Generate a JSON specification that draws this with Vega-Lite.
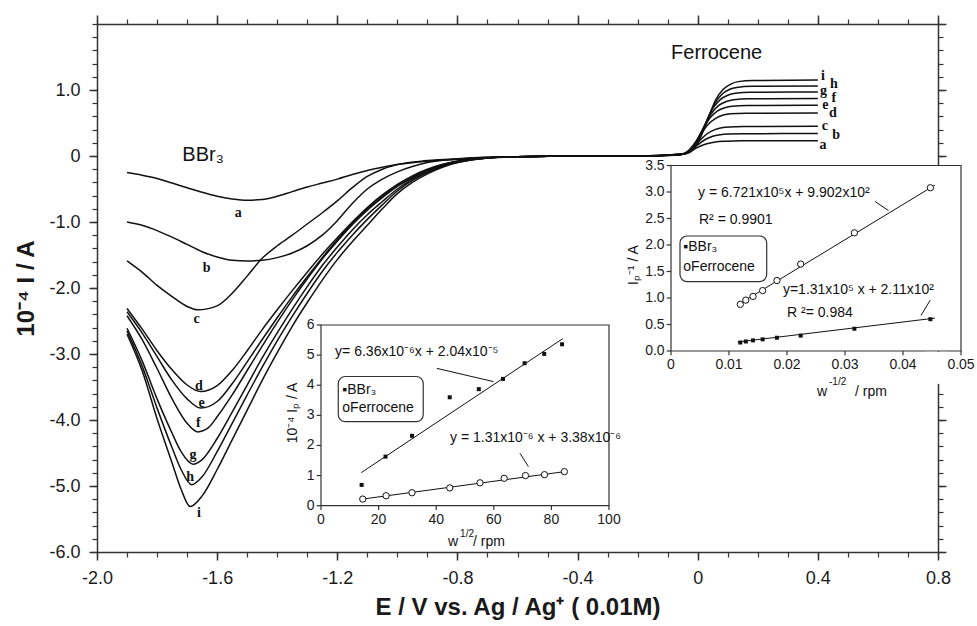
{
"$schema":"https://vega.github.io/schema/vega-lite/v6.json",
"width":841,"height":528,
"autosize":{"type":"none"},
"padding":{"left":97,"top":24,"right":39,"bottom":74},
"background":"white",
"config":{"view":{"stroke":null},"font":"Liberation Sans",
"axis":{"grid":false,"labelFont":"Liberation Sans","titleFont":"Liberation Sans","labelColor":"#1a1a1a","titleColor":"#1a1a1a","domainColor":"#333","tickColor":"#333","labelFlush":false,"labelOverlap":false}},
"datasets":{
"curves":[
{"c":"a","E":-1.9,"I":-0.25},{"c":"a","E":-1.85,"I":-0.29},{"c":"a","E":-1.8,"I":-0.34},{"c":"a","E":-1.75,"I":-0.41},{"c":"a","E":-1.7,"I":-0.48},{"c":"a","E":-1.65,"I":-0.55},{"c":"a","E":-1.6,"I":-0.61},{"c":"a","E":-1.55,"I":-0.65},{"c":"a","E":-1.5,"I":-0.67},{"c":"a","E":-1.45,"I":-0.66},{"c":"a","E":-1.4,"I":-0.61},{"c":"a","E":-1.35,"I":-0.54},{"c":"a","E":-1.3,"I":-0.47},{"c":"a","E":-1.25,"I":-0.41},{"c":"a","E":-1.2,"I":-0.35},{"c":"a","E":-1.15,"I":-0.28},{"c":"a","E":-1.1,"I":-0.22},{"c":"a","E":-1.05,"I":-0.17},{"c":"a","E":-1.0,"I":-0.13},{"c":"a","E":-0.9,"I":-0.08},{"c":"a","E":-0.8,"I":-0.05},{"c":"a","E":-0.7,"I":-0.03},{"c":"a","E":-0.6,"I":-0.01},{"c":"a","E":-0.4,"I":0},{"c":"a","E":-0.2,"I":0},{"c":"a","E":-0.08,"I":0.01},{"c":"a","E":-0.055,"I":0.02},{"c":"a","E":-0.03,"I":0.06},{"c":"a","E":-0.005,"I":0.12},{"c":"a","E":0.02,"I":0.17},{"c":"a","E":0.045,"I":0.2},{"c":"a","E":0.07,"I":0.22},{"c":"a","E":0.095,"I":0.225},{"c":"a","E":0.145,"I":0.23},{"c":"a","E":0.4,"I":0.23},
{"c":"b","E":-1.9,"I":-1.0},{"c":"b","E":-1.85,"I":-1.05},{"c":"b","E":-1.8,"I":-1.13},{"c":"b","E":-1.75,"I":-1.23},{"c":"b","E":-1.7,"I":-1.34},{"c":"b","E":-1.65,"I":-1.45},{"c":"b","E":-1.6,"I":-1.53},{"c":"b","E":-1.55,"I":-1.58},{"c":"b","E":-1.5,"I":-1.59},{"c":"b","E":-1.45,"I":-1.58},{"c":"b","E":-1.4,"I":-1.54},{"c":"b","E":-1.35,"I":-1.47},{"c":"b","E":-1.3,"I":-1.36},{"c":"b","E":-1.25,"I":-1.2},{"c":"b","E":-1.2,"I":-0.98},{"c":"b","E":-1.15,"I":-0.72},{"c":"b","E":-1.1,"I":-0.5},{"c":"b","E":-1.05,"I":-0.35},{"c":"b","E":-1.0,"I":-0.24},{"c":"b","E":-0.95,"I":-0.16},{"c":"b","E":-0.9,"I":-0.1},{"c":"b","E":-0.8,"I":-0.05},{"c":"b","E":-0.7,"I":-0.02},{"c":"b","E":-0.6,"I":-0.01},{"c":"b","E":-0.4,"I":0},{"c":"b","E":-0.2,"I":0},{"c":"b","E":-0.075,"I":0.01},{"c":"b","E":-0.05,"I":0.027},{"c":"b","E":-0.025,"I":0.085},{"c":"b","E":0,"I":0.17},{"c":"b","E":0.025,"I":0.25},{"c":"b","E":0.05,"I":0.3},{"c":"b","E":0.075,"I":0.323},{"c":"b","E":0.1,"I":0.333},{"c":"b","E":0.15,"I":0.338},{"c":"b","E":0.4,"I":0.34},
{"c":"c","E":-1.9,"I":-1.59},{"c":"c","E":-1.85,"I":-1.76},{"c":"c","E":-1.8,"I":-1.96},{"c":"c","E":-1.75,"I":-2.13},{"c":"c","E":-1.7,"I":-2.28},{"c":"c","E":-1.665,"I":-2.33},{"c":"c","E":-1.6,"I":-2.27},{"c":"c","E":-1.55,"I":-2.08},{"c":"c","E":-1.5,"I":-1.82},{"c":"c","E":-1.45,"I":-1.55},{"c":"c","E":-1.4,"I":-1.36},{"c":"c","E":-1.35,"I":-1.2},{"c":"c","E":-1.3,"I":-1.03},{"c":"c","E":-1.25,"I":-0.86},{"c":"c","E":-1.2,"I":-0.68},{"c":"c","E":-1.15,"I":-0.48},{"c":"c","E":-1.1,"I":-0.31},{"c":"c","E":-1.05,"I":-0.2},{"c":"c","E":-1.0,"I":-0.13},{"c":"c","E":-0.9,"I":-0.07},{"c":"c","E":-0.8,"I":-0.04},{"c":"c","E":-0.7,"I":-0.02},{"c":"c","E":-0.6,"I":-0.01},{"c":"c","E":-0.4,"I":0},{"c":"c","E":-0.2,"I":0},{"c":"c","E":-0.07,"I":0.014},{"c":"c","E":-0.045,"I":0.036},{"c":"c","E":-0.02,"I":0.11},{"c":"c","E":0.005,"I":0.225},{"c":"c","E":0.03,"I":0.333},{"c":"c","E":0.055,"I":0.396},{"c":"c","E":0.08,"I":0.428},{"c":"c","E":0.105,"I":0.441},{"c":"c","E":0.155,"I":0.448},{"c":"c","E":0.4,"I":0.45},
{"c":"d","E":-1.9,"I":-2.31},{"c":"d","E":-1.85,"I":-2.62},{"c":"d","E":-1.8,"I":-2.95},{"c":"d","E":-1.75,"I":-3.24},{"c":"d","E":-1.7,"I":-3.47},{"c":"d","E":-1.655,"I":-3.57},{"c":"d","E":-1.6,"I":-3.48},{"c":"d","E":-1.55,"I":-3.25},{"c":"d","E":-1.5,"I":-2.95},{"c":"d","E":-1.45,"I":-2.63},{"c":"d","E":-1.4,"I":-2.33},{"c":"d","E":-1.35,"I":-2.04},{"c":"d","E":-1.3,"I":-1.76},{"c":"d","E":-1.25,"I":-1.49},{"c":"d","E":-1.2,"I":-1.24},{"c":"d","E":-1.15,"I":-1.0},{"c":"d","E":-1.1,"I":-0.78},{"c":"d","E":-1.05,"I":-0.59},{"c":"d","E":-1.0,"I":-0.43},{"c":"d","E":-0.95,"I":-0.3},{"c":"d","E":-0.9,"I":-0.2},{"c":"d","E":-0.85,"I":-0.13},{"c":"d","E":-0.8,"I":-0.08},{"c":"d","E":-0.7,"I":-0.03},{"c":"d","E":-0.6,"I":-0.01},{"c":"d","E":-0.4,"I":0},{"c":"d","E":-0.2,"I":0},{"c":"d","E":-0.065,"I":0.02},{"c":"d","E":-0.04,"I":0.052},{"c":"d","E":-0.015,"I":0.16},{"c":"d","E":0.01,"I":0.325},{"c":"d","E":0.035,"I":0.48},{"c":"d","E":0.06,"I":0.57},{"c":"d","E":0.085,"I":0.62},{"c":"d","E":0.11,"I":0.64},{"c":"d","E":0.16,"I":0.647},{"c":"d","E":0.4,"I":0.65},
{"c":"e","E":-1.9,"I":-2.36},{"c":"e","E":-1.85,"I":-2.68},{"c":"e","E":-1.8,"I":-3.04},{"c":"e","E":-1.75,"I":-3.4},{"c":"e","E":-1.7,"I":-3.68},{"c":"e","E":-1.655,"I":-3.82},{"c":"e","E":-1.6,"I":-3.72},{"c":"e","E":-1.55,"I":-3.45},{"c":"e","E":-1.5,"I":-3.12},{"c":"e","E":-1.45,"I":-2.78},{"c":"e","E":-1.4,"I":-2.45},{"c":"e","E":-1.35,"I":-2.13},{"c":"e","E":-1.3,"I":-1.83},{"c":"e","E":-1.25,"I":-1.54},{"c":"e","E":-1.2,"I":-1.27},{"c":"e","E":-1.15,"I":-1.02},{"c":"e","E":-1.1,"I":-0.8},{"c":"e","E":-1.05,"I":-0.61},{"c":"e","E":-1.0,"I":-0.45},{"c":"e","E":-0.95,"I":-0.32},{"c":"e","E":-0.9,"I":-0.21},{"c":"e","E":-0.85,"I":-0.13},{"c":"e","E":-0.8,"I":-0.08},{"c":"e","E":-0.7,"I":-0.03},{"c":"e","E":-0.6,"I":-0.01},{"c":"e","E":-0.4,"I":0},{"c":"e","E":-0.2,"I":0},{"c":"e","E":-0.06,"I":0.023},{"c":"e","E":-0.035,"I":0.062},{"c":"e","E":-0.01,"I":0.19},{"c":"e","E":0.015,"I":0.385},{"c":"e","E":0.04,"I":0.57},{"c":"e","E":0.065,"I":0.68},{"c":"e","E":0.09,"I":0.73},{"c":"e","E":0.115,"I":0.755},{"c":"e","E":0.165,"I":0.766},{"c":"e","E":0.4,"I":0.77},
{"c":"f","E":-1.9,"I":-2.42},{"c":"f","E":-1.85,"I":-2.78},{"c":"f","E":-1.8,"I":-3.22},{"c":"f","E":-1.75,"I":-3.68},{"c":"f","E":-1.7,"I":-4.05},{"c":"f","E":-1.665,"I":-4.18},{"c":"f","E":-1.63,"I":-4.12},{"c":"f","E":-1.6,"I":-3.95},{"c":"f","E":-1.55,"I":-3.62},{"c":"f","E":-1.5,"I":-3.25},{"c":"f","E":-1.45,"I":-2.88},{"c":"f","E":-1.4,"I":-2.52},{"c":"f","E":-1.35,"I":-2.18},{"c":"f","E":-1.3,"I":-1.86},{"c":"f","E":-1.25,"I":-1.56},{"c":"f","E":-1.2,"I":-1.29},{"c":"f","E":-1.15,"I":-1.04},{"c":"f","E":-1.1,"I":-0.82},{"c":"f","E":-1.05,"I":-0.63},{"c":"f","E":-1.0,"I":-0.46},{"c":"f","E":-0.95,"I":-0.33},{"c":"f","E":-0.9,"I":-0.22},{"c":"f","E":-0.85,"I":-0.14},{"c":"f","E":-0.8,"I":-0.08},{"c":"f","E":-0.7,"I":-0.03},{"c":"f","E":-0.6,"I":-0.01},{"c":"f","E":-0.4,"I":0},{"c":"f","E":-0.2,"I":0},{"c":"f","E":-0.055,"I":0.026},{"c":"f","E":-0.03,"I":0.07},{"c":"f","E":-0.005,"I":0.22},{"c":"f","E":0.02,"I":0.435},{"c":"f","E":0.045,"I":0.64},{"c":"f","E":0.07,"I":0.766},{"c":"f","E":0.095,"I":0.826},{"c":"f","E":0.12,"I":0.853},{"c":"f","E":0.17,"I":0.866},{"c":"f","E":0.4,"I":0.87},
{"c":"g","E":-1.9,"I":-2.61},{"c":"g","E":-1.85,"I":-3.1},{"c":"g","E":-1.8,"I":-3.68},{"c":"g","E":-1.75,"I":-4.2},{"c":"g","E":-1.72,"I":-4.48},{"c":"g","E":-1.68,"I":-4.67},{"c":"g","E":-1.65,"I":-4.6},{"c":"g","E":-1.6,"I":-4.28},{"c":"g","E":-1.55,"I":-3.88},{"c":"g","E":-1.5,"I":-3.47},{"c":"g","E":-1.45,"I":-3.06},{"c":"g","E":-1.4,"I":-2.68},{"c":"g","E":-1.35,"I":-2.32},{"c":"g","E":-1.3,"I":-1.98},{"c":"g","E":-1.25,"I":-1.66},{"c":"g","E":-1.2,"I":-1.38},{"c":"g","E":-1.15,"I":-1.12},{"c":"g","E":-1.1,"I":-0.89},{"c":"g","E":-1.05,"I":-0.69},{"c":"g","E":-1.0,"I":-0.5},{"c":"g","E":-0.95,"I":-0.35},{"c":"g","E":-0.9,"I":-0.24},{"c":"g","E":-0.85,"I":-0.15},{"c":"g","E":-0.8,"I":-0.09},{"c":"g","E":-0.7,"I":-0.03},{"c":"g","E":-0.6,"I":-0.01},{"c":"g","E":-0.4,"I":0},{"c":"g","E":-0.2,"I":0},{"c":"g","E":-0.05,"I":0.029},{"c":"g","E":-0.025,"I":0.078},{"c":"g","E":0,"I":0.24},{"c":"g","E":0.025,"I":0.485},{"c":"g","E":0.05,"I":0.72},{"c":"g","E":0.075,"I":0.854},{"c":"g","E":0.1,"I":0.92},{"c":"g","E":0.125,"I":0.95},{"c":"g","E":0.175,"I":0.965},{"c":"g","E":0.4,"I":0.97},
{"c":"h","E":-1.9,"I":-2.65},{"c":"h","E":-1.85,"I":-3.18},{"c":"h","E":-1.8,"I":-3.82},{"c":"h","E":-1.75,"I":-4.42},{"c":"h","E":-1.72,"I":-4.75},{"c":"h","E":-1.685,"I":-4.98},{"c":"h","E":-1.65,"I":-4.86},{"c":"h","E":-1.6,"I":-4.48},{"c":"h","E":-1.55,"I":-4.05},{"c":"h","E":-1.5,"I":-3.62},{"c":"h","E":-1.45,"I":-3.2},{"c":"h","E":-1.4,"I":-2.8},{"c":"h","E":-1.35,"I":-2.43},{"c":"h","E":-1.3,"I":-2.08},{"c":"h","E":-1.25,"I":-1.75},{"c":"h","E":-1.2,"I":-1.46},{"c":"h","E":-1.15,"I":-1.2},{"c":"h","E":-1.1,"I":-0.96},{"c":"h","E":-1.05,"I":-0.74},{"c":"h","E":-1.0,"I":-0.53},{"c":"h","E":-0.95,"I":-0.37},{"c":"h","E":-0.9,"I":-0.25},{"c":"h","E":-0.85,"I":-0.16},{"c":"h","E":-0.8,"I":-0.1},{"c":"h","E":-0.7,"I":-0.03},{"c":"h","E":-0.6,"I":-0.01},{"c":"h","E":-0.4,"I":0},{"c":"h","E":-0.2,"I":0},{"c":"h","E":-0.045,"I":0.032},{"c":"h","E":-0.02,"I":0.085},{"c":"h","E":0.005,"I":0.265},{"c":"h","E":0.03,"I":0.53},{"c":"h","E":0.055,"I":0.784},{"c":"h","E":0.08,"I":0.933},{"c":"h","E":0.105,"I":1.007},{"c":"h","E":0.13,"I":1.039},{"c":"h","E":0.18,"I":1.055},{"c":"h","E":0.4,"I":1.06},
{"c":"i","E":-1.9,"I":-2.7},{"c":"i","E":-1.85,"I":-3.25},{"c":"i","E":-1.8,"I":-3.98},{"c":"i","E":-1.75,"I":-4.65},{"c":"i","E":-1.72,"I":-5.05},{"c":"i","E":-1.69,"I":-5.31},{"c":"i","E":-1.65,"I":-5.15},{"c":"i","E":-1.6,"I":-4.75},{"c":"i","E":-1.55,"I":-4.3},{"c":"i","E":-1.5,"I":-3.85},{"c":"i","E":-1.45,"I":-3.4},{"c":"i","E":-1.4,"I":-2.98},{"c":"i","E":-1.35,"I":-2.58},{"c":"i","E":-1.3,"I":-2.22},{"c":"i","E":-1.25,"I":-1.88},{"c":"i","E":-1.2,"I":-1.57},{"c":"i","E":-1.15,"I":-1.3},{"c":"i","E":-1.1,"I":-1.05},{"c":"i","E":-1.05,"I":-0.8},{"c":"i","E":-1.0,"I":-0.57},{"c":"i","E":-0.95,"I":-0.4},{"c":"i","E":-0.9,"I":-0.27},{"c":"i","E":-0.85,"I":-0.17},{"c":"i","E":-0.8,"I":-0.1},{"c":"i","E":-0.7,"I":-0.03},{"c":"i","E":-0.6,"I":-0.01},{"c":"i","E":-0.4,"I":0},{"c":"i","E":-0.2,"I":0},{"c":"i","E":-0.04,"I":0.035},{"c":"i","E":-0.015,"I":0.092},{"c":"i","E":0.01,"I":0.29},{"c":"i","E":0.035,"I":0.575},{"c":"i","E":0.06,"I":0.85},{"c":"i","E":0.085,"I":1.01},{"c":"i","E":0.11,"I":1.09},{"c":"i","E":0.135,"I":1.127},{"c":"i","E":0.185,"I":1.144},{"c":"i","E":0.4,"I":1.15}
],
"curveLabels":[
{"t":"a","E":-1.53,"I":-0.86},{"t":"b","E":-1.635,"I":-1.7},{"t":"c","E":-1.668,"I":-2.47},{"t":"d","E":-1.661,"I":-3.48},{"t":"e","E":-1.652,"I":-3.74},{"t":"f","E":-1.663,"I":-4.05},{"t":"g","E":-1.68,"I":-4.53},{"t":"h","E":-1.69,"I":-4.86},{"t":"i","E":-1.661,"I":-5.41},
{"t":"a","E":0.417,"I":0.167},{"t":"b","E":0.461,"I":0.318},{"t":"c","E":0.423,"I":0.455},{"t":"d","E":0.45,"I":0.647},{"t":"e","E":0.425,"I":0.773},{"t":"f","E":0.453,"I":0.874},{"t":"g","E":0.419,"I":0.985},{"t":"h","E":0.453,"I":1.085},{"t":"i","E":0.417,"I":1.215}
],
"mainText":[{"t":"BBr₃","E":-1.647,"I":0.02},{"t":"Ferrocene","E":0.063,"I":1.56}],
"i1pts":[
{"s":"BBr3","w":14.1,"ip":0.69},{"s":"BBr3","w":22.4,"ip":1.63},{"s":"BBr3","w":31.6,"ip":2.32},{"s":"BBr3","w":44.7,"ip":3.6},{"s":"BBr3","w":54.8,"ip":3.87},{"s":"BBr3","w":63.2,"ip":4.21},{"s":"BBr3","w":70.7,"ip":4.73},{"s":"BBr3","w":77.5,"ip":5.04},{"s":"BBr3","w":83.7,"ip":5.36},
{"s":"Ferrocene","w":14.5,"ip":0.22},{"s":"Ferrocene","w":22.6,"ip":0.33},{"s":"Ferrocene","w":31.6,"ip":0.43},{"s":"Ferrocene","w":44.7,"ip":0.59},{"s":"Ferrocene","w":55.2,"ip":0.76},{"s":"Ferrocene","w":63.6,"ip":0.91},{"s":"Ferrocene","w":71.0,"ip":1.0},{"s":"Ferrocene","w":77.6,"ip":1.03},{"s":"Ferrocene","w":84.5,"ip":1.13}
],
"i1fit":[{"s":"BBr3","w":14,"ip":1.1},{"s":"BBr3","w":84,"ip":5.55},{"s":"Ferrocene","w":14.5,"ip":0.22},{"s":"Ferrocene","w":84.5,"ip":1.13}],
"i1xt":[{"v":0,"lab":"0"},{"v":20,"lab":"20"},{"v":40,"lab":"40"},{"v":60,"lab":"60"},{"v":80,"lab":"80"},{"v":100,"lab":"100"}],
"i1yt":[{"v":0,"lab":"0"},{"v":1,"lab":"1"},{"v":2,"lab":"2"},{"v":3,"lab":"3"},{"v":4,"lab":"4"},{"v":5,"lab":"5"},{"v":6,"lab":"6"}],
"i1text":[
{"t":"y= 6.36x10⁻⁶x + 2.04x10⁻⁵","x":4.9,"y":5.12},
{"t":"y = 1.31x10⁻⁶ x + 3.38x10⁻⁶","x":44.8,"y":2.25},
{"t":"▪BBr₃","x":7.4,"y":3.85},
{"t":"oFerrocene","x":7.4,"y":3.24},
{"t":"w","x":44.1,"y":-1.21},
{"t":"/ rpm","x":52.8,"y":-1.21}
],
"i1sup":[{"t":"1/2","x":48.3,"y":-0.94}],
"i1rot":[{"t":"10⁻⁴ Iₚ / A","x":-9.7,"y":3.08}],
"i1rules":[{"x":40.2,"y":4.56,"x2":59.9,"y2":4.12},{"x":69.1,"y":1.74,"x2":72,"y2":1.3}],
"i2pts":[
{"s":"BBr3","w":0.01195,"ip":0.16},{"s":"BBr3","w":0.0129,"ip":0.18},{"s":"BBr3","w":0.01414,"ip":0.2},{"s":"BBr3","w":0.0158,"ip":0.22},{"s":"BBr3","w":0.01826,"ip":0.25},{"s":"BBr3","w":0.02236,"ip":0.29},{"s":"BBr3","w":0.03162,"ip":0.42},{"s":"BBr3","w":0.04472,"ip":0.6},
{"s":"Ferrocene","w":0.01195,"ip":0.88},{"s":"Ferrocene","w":0.0129,"ip":0.96},{"s":"Ferrocene","w":0.01414,"ip":1.03},{"s":"Ferrocene","w":0.0158,"ip":1.14},{"s":"Ferrocene","w":0.01826,"ip":1.33},{"s":"Ferrocene","w":0.02236,"ip":1.64},{"s":"Ferrocene","w":0.03162,"ip":2.23},{"s":"Ferrocene","w":0.04472,"ip":3.08}
],
"i2fit":[{"s":"BBr3","w":0.0115,"ip":0.17},{"s":"BBr3","w":0.0455,"ip":0.62},{"s":"Ferrocene","w":0.0115,"ip":0.87},{"s":"Ferrocene","w":0.0455,"ip":3.13}],
"i2xt":[{"v":0,"lab":"0"},{"v":0.01,"lab":"0.01"},{"v":0.02,"lab":"0.02"},{"v":0.03,"lab":"0.03"},{"v":0.04,"lab":"0.04"},{"v":0.05,"lab":"0.05"}],
"i2yt":[{"v":0,"lab":"0.0"},{"v":0.5,"lab":"0.5"},{"v":1,"lab":"1.0"},{"v":1.5,"lab":"1.5"},{"v":2,"lab":"2.0"},{"v":2.5,"lab":"2.5"},{"v":3,"lab":"3.0"},{"v":3.5,"lab":"3.5"}],
"i2text":[
{"t":"y = 6.721x10⁵x + 9.902x10²","x":0.00466,"y":2.98},
{"t":"R² = 0.9901","x":0.00483,"y":2.47},
{"t":"y=1.31x10⁵ x + 2.11x10²","x":0.0193,"y":1.15},
{"t":"R ²= 0.984","x":0.02,"y":0.72},
{"t":"▪BBr₃","x":0.00212,"y":1.97},
{"t":"oFerrocene","x":0.00212,"y":1.59},
{"t":"w","x":0.02517,"y":-0.77},
{"t":"/ rpm","x":0.03172,"y":-0.77}
],
"i2sup":[{"t":"-1/2","x":0.02724,"y":-0.585}],
"i2rot":[{"t":"Iₚ⁻¹ / A","x":-0.0064,"y":1.62}],
"i2rules":[{"x":0.0352,"y":2.82,"x2":0.0375,"y2":2.65},{"x":0.0431,"y":0.67,"x2":0.0447,"y2":0.96}]
},
"layer":[
{
"layer":[
{"data":{"name":"curves"},
"mark":{"type":"line","interpolate":"monotone","stroke":"#111","strokeWidth":1.5},
"encoding":{
"x":{"field":"E","type":"quantitative","scale":{"domain":[-2,0.8],"nice":false,"zero":false},
"axis":{"orient":"bottom","values":[-2,-1.6,-1.2,-0.8,-0.4,0,0.4,0.8],"labelExpr":"datum.value == 0 ? '0' : (datum.value < 0 ? '-' : '') + format(abs(datum.value), '.1f')","tickSize":8,"tickWidth":1.5,"domainWidth":1.5,"labelFontSize":18,"labelPadding":9,"title":"E / V vs. Ag / Ag⁺  ( 0.01M)","titleFontSize":24,"titleFontWeight":"bold","titlePadding":8,"zindex":0}},
"y":{"field":"I","type":"quantitative","scale":{"domain":[-6,2],"nice":false,"zero":false},
"axis":{"orient":"left","values":[-6,-5,-4,-3,-2,-1,0,1],"labelExpr":"datum.value == 0 ? '0' : (datum.value < 0 ? '-' : '') + format(abs(datum.value), '.1f')","tickSize":8,"tickWidth":1.5,"domainWidth":1.5,"labelFontSize":18,"labelPadding":9,"title":"10⁻⁴  I / A","titleFontSize":24,"titleFontWeight":"bold","titlePadding":10,"zindex":0}},
"detail":{"field":"c"}}},
{"data":{"name":"mainText"},"mark":{"type":"point","opacity":0},
"encoding":{
"x":{"field":"E","type":"quantitative","scale":{"domain":[-2,0.8],"nice":false,"zero":false},
"axis":{"orient":"bottom","values":[-2,-1.9,-1.8,-1.7,-1.6,-1.5,-1.4,-1.3,-1.2,-1.1,-1,-0.9,-0.8,-0.7,-0.6,-0.5,-0.4,-0.3,-0.2,-0.1,0,0.1,0.2,0.3,0.4,0.5,0.6,0.7,0.8],"labels":false,"domain":false,"tickSize":5,"tickWidth":1.2,"title":null,"zindex":0}},
"y":{"field":"I","type":"quantitative","scale":{"domain":[-6,2],"nice":false,"zero":false},
"axis":{"orient":"left","values":[-6,-5.8,-5.6,-5.4,-5.2,-5,-4.8,-4.6,-4.4,-4.2,-4,-3.8,-3.6,-3.4,-3.2,-3,-2.8,-2.6,-2.4,-2.2,-2,-1.8,-1.6,-1.4,-1.2,-1,-0.8,-0.6,-0.4,-0.2,0,0.2,0.4,0.6,0.8,1,1.2,1.4,1.6,1.8,2],"labels":false,"domain":false,"tickSize":5,"tickWidth":1.2,"title":null,"zindex":0}}}},
{"data":{"name":"mainText"},"mark":{"type":"point","opacity":0},
"encoding":{
"x":{"field":"E","type":"quantitative","scale":{"domain":[-2,0.8],"nice":false,"zero":false},
"axis":{"orient":"top","values":[-2,-1.6,-1.2,-0.8,-0.4,0,0.4,0.8],"labels":false,"tickSize":9,"tickWidth":1.5,"domainWidth":1.5,"title":null,"zindex":0}},
"y":{"field":"I","type":"quantitative","scale":{"domain":[-6,2],"nice":false,"zero":false},
"axis":{"orient":"right","values":[-6,-5,-4,-3,-2,-1,0,1,2],"labels":false,"tickSize":8,"tickWidth":1.5,"domainWidth":1.5,"title":null,"zindex":0}}}},
{"data":{"name":"mainText"},"mark":{"type":"point","opacity":0},
"encoding":{
"x":{"field":"E","type":"quantitative","scale":{"domain":[-2,0.8],"nice":false,"zero":false},
"axis":{"orient":"top","values":[-2,-1.9,-1.8,-1.7,-1.6,-1.5,-1.4,-1.3,-1.2,-1.1,-1,-0.9,-0.8,-0.7,-0.6,-0.5,-0.4,-0.3,-0.2,-0.1,0,0.1,0.2,0.3,0.4,0.5,0.6,0.7,0.8],"labels":false,"domain":false,"tickSize":5,"tickWidth":1.2,"title":null,"zindex":0}},
"y":{"field":"I","type":"quantitative","scale":{"domain":[-6,2],"nice":false,"zero":false},
"axis":{"orient":"right","values":[-6,-5.8,-5.6,-5.4,-5.2,-5,-4.8,-4.6,-4.4,-4.2,-4,-3.8,-3.6,-3.4,-3.2,-3,-2.8,-2.6,-2.4,-2.2,-2,-1.8,-1.6,-1.4,-1.2,-1,-0.8,-0.6,-0.4,-0.2,0,0.2,0.4,0.6,0.8,1,1.2,1.4,1.6,1.8,2],"labels":false,"domain":false,"tickSize":5,"tickWidth":1.2,"title":null,"zindex":0}}}},
{"data":{"name":"curveLabels"},"mark":{"type":"text","font":"Liberation Serif","fontSize":14,"fontWeight":"bold","color":"#111","align":"center","baseline":"middle"},
"encoding":{"x":{"field":"E","type":"quantitative","scale":{"domain":[-2,0.8],"nice":false,"zero":false},"axis":null},
"y":{"field":"I","type":"quantitative","scale":{"domain":[-6,2],"nice":false,"zero":false},"axis":null},
"text":{"field":"t"}}},
{"data":{"name":"mainText"},"mark":{"type":"text","fontSize":20,"color":"#111","align":"center","baseline":"middle"},
"encoding":{"x":{"field":"E","type":"quantitative","scale":{"domain":[-2,0.8],"nice":false,"zero":false},"axis":null},
"y":{"field":"I","type":"quantitative","scale":{"domain":[-6,2],"nice":false,"zero":false},"axis":null},
"text":{"field":"t"}}}
],
"resolve":{"axis":{"x":"independent","y":"independent"}}
},
{
"layer":[
{"data":{"values":[{}]},"mark":{"type":"rect","fill":"white","stroke":"#333","strokeWidth":1.2},
"encoding":{"x":{"datum":0,"type":"quantitative","scale":{"domain":[0,100],"range":[224,512],"nice":false,"zero":false},"axis":null},"x2":{"datum":100},
"y":{"datum":0,"type":"quantitative","scale":{"domain":[0,6],"range":[481.7,301],"nice":false,"zero":false},"axis":null},"y2":{"datum":6}}},
{"data":{"name":"i1xt"},"mark":{"type":"rule","stroke":"#333","strokeWidth":1.2},
"encoding":{"x":{"field":"v","type":"quantitative","scale":{"domain":[0,100],"range":[224,512],"nice":false,"zero":false},"axis":null},
"y":{"datum":0,"type":"quantitative","scale":{"domain":[0,6],"range":[481.7,301],"nice":false,"zero":false},"axis":null},"y2":{"datum":-0.14}}},
{"data":{"name":"i1xt"},"mark":{"type":"text","fontSize":14,"color":"#1a1a1a","align":"center","baseline":"top"},
"encoding":{"x":{"field":"v","type":"quantitative","scale":{"domain":[0,100],"range":[224,512],"nice":false,"zero":false},"axis":null},
"y":{"datum":-0.25,"type":"quantitative","scale":{"domain":[0,6],"range":[481.7,301],"nice":false,"zero":false},"axis":null},"text":{"field":"lab"}}},
{"data":{"name":"i1yt"},"mark":{"type":"rule","stroke":"#333","strokeWidth":1.2},
"encoding":{"x":{"datum":0,"type":"quantitative","scale":{"domain":[0,100],"range":[224,512],"nice":false,"zero":false},"axis":null},"x2":{"datum":-1.5},
"y":{"field":"v","type":"quantitative","scale":{"domain":[0,6],"range":[481.7,301],"nice":false,"zero":false},"axis":null}}},
{"data":{"name":"i1yt"},"mark":{"type":"text","fontSize":14,"color":"#1a1a1a","align":"right","baseline":"middle"},
"encoding":{"x":{"datum":-2.2,"type":"quantitative","scale":{"domain":[0,100],"range":[224,512],"nice":false,"zero":false},"axis":null},
"y":{"field":"v","type":"quantitative","scale":{"domain":[0,6],"range":[481.7,301],"nice":false,"zero":false},"axis":null},"text":{"field":"lab"}}},
{"data":{"name":"i1fit"},"mark":{"type":"line","stroke":"#111","strokeWidth":1},
"encoding":{"x":{"field":"w","type":"quantitative","scale":{"domain":[0,100],"range":[224,512],"nice":false,"zero":false},"axis":null},
"y":{"field":"ip","type":"quantitative","scale":{"domain":[0,6],"range":[481.7,301],"nice":false,"zero":false},"axis":null},"detail":{"field":"s"}}},
{"data":{"name":"i1pts"},"transform":[{"filter":"datum.s == 'BBr3'"}],"mark":{"type":"square","color":"#111","size":16,"opacity":1},
"encoding":{"x":{"field":"w","type":"quantitative","scale":{"domain":[0,100],"range":[224,512],"nice":false,"zero":false},"axis":null},
"y":{"field":"ip","type":"quantitative","scale":{"domain":[0,6],"range":[481.7,301],"nice":false,"zero":false},"axis":null}}},
{"data":{"name":"i1pts"},"transform":[{"filter":"datum.s == 'Ferrocene'"}],"mark":{"type":"point","shape":"circle","filled":true,"fill":"white","stroke":"#111","strokeWidth":1,"size":40,"opacity":1},
"encoding":{"x":{"field":"w","type":"quantitative","scale":{"domain":[0,100],"range":[224,512],"nice":false,"zero":false},"axis":null},
"y":{"field":"ip","type":"quantitative","scale":{"domain":[0,6],"range":[481.7,301],"nice":false,"zero":false},"axis":null}}},
{"data":{"name":"i1rules"},"mark":{"type":"rule","stroke":"#111","strokeWidth":1},
"encoding":{"x":{"field":"x","type":"quantitative","scale":{"domain":[0,100],"range":[224,512],"nice":false,"zero":false},"axis":null},"x2":{"field":"x2"},
"y":{"field":"y","type":"quantitative","scale":{"domain":[0,6],"range":[481.7,301],"nice":false,"zero":false},"axis":null},"y2":{"field":"y2"}}},
{"data":{"values":[{}]},"mark":{"type":"rect","fill":"white","stroke":"#333","strokeWidth":1.2,"cornerRadius":7},
"encoding":{"x":{"datum":6,"type":"quantitative","scale":{"domain":[0,100],"range":[224,512],"nice":false,"zero":false},"axis":null},"x2":{"datum":35.5},
"y":{"datum":4.29,"type":"quantitative","scale":{"domain":[0,6],"range":[481.7,301],"nice":false,"zero":false},"axis":null},"y2":{"datum":2.79}}},
{"data":{"name":"i1text"},"mark":{"type":"text","fontSize":14,"color":"#111","align":"left","baseline":"middle"},
"encoding":{"x":{"field":"x","type":"quantitative","scale":{"domain":[0,100],"range":[224,512],"nice":false,"zero":false},"axis":null},
"y":{"field":"y","type":"quantitative","scale":{"domain":[0,6],"range":[481.7,301],"nice":false,"zero":false},"axis":null},"text":{"field":"t"}}},
{"data":{"name":"i1sup"},"mark":{"type":"text","fontSize":10,"color":"#111","align":"left","baseline":"middle"},
"encoding":{"x":{"field":"x","type":"quantitative","scale":{"domain":[0,100],"range":[224,512],"nice":false,"zero":false},"axis":null},
"y":{"field":"y","type":"quantitative","scale":{"domain":[0,6],"range":[481.7,301],"nice":false,"zero":false},"axis":null},"text":{"field":"t"}}},
{"data":{"name":"i1rot"},"mark":{"type":"text","fontSize":14,"color":"#111","align":"center","baseline":"middle","angle":270},
"encoding":{"x":{"field":"x","type":"quantitative","scale":{"domain":[0,100],"range":[224,512],"nice":false,"zero":false},"axis":null},
"y":{"field":"y","type":"quantitative","scale":{"domain":[0,6],"range":[481.7,301],"nice":false,"zero":false},"axis":null},"text":{"field":"t"}}}
]
},
{
"layer":[
{"data":{"values":[{}]},"mark":{"type":"rect","fill":"white","stroke":"#333","strokeWidth":1.2},
"encoding":{"x":{"datum":0,"type":"quantitative","scale":{"domain":[0,0.05],"range":[574,864],"nice":false,"zero":false},"axis":null},"x2":{"datum":0.05},
"y":{"datum":0,"type":"quantitative","scale":{"domain":[0,3.5],"range":[327,141.5],"nice":false,"zero":false},"axis":null},"y2":{"datum":3.5}}},
{"data":{"values":[{}]},"mark":{"type":"rect","fill":"white","strokeWidth":0},
"encoding":{"x":{"datum":0.0438,"type":"quantitative","scale":{"domain":[0,0.05],"range":[574,864],"nice":false,"zero":false},"axis":null},"x2":{"datum":0.0477},
"y":{"datum":-0.015,"type":"quantitative","scale":{"domain":[0,3.5],"range":[327,141.5],"nice":false,"zero":false},"axis":null},"y2":{"datum":-0.62}}},
{"data":{"name":"i2xt"},"mark":{"type":"rule","stroke":"#333","strokeWidth":1.2},
"encoding":{"x":{"field":"v","type":"quantitative","scale":{"domain":[0,0.05],"range":[574,864],"nice":false,"zero":false},"axis":null},
"y":{"datum":0,"type":"quantitative","scale":{"domain":[0,3.5],"range":[327,141.5],"nice":false,"zero":false},"axis":null},"y2":{"datum":-0.08}}},
{"data":{"name":"i2xt"},"mark":{"type":"text","fontSize":14,"color":"#1a1a1a","align":"center","baseline":"top"},
"encoding":{"x":{"field":"v","type":"quantitative","scale":{"domain":[0,0.05],"range":[574,864],"nice":false,"zero":false},"axis":null},
"y":{"datum":-0.14,"type":"quantitative","scale":{"domain":[0,3.5],"range":[327,141.5],"nice":false,"zero":false},"axis":null},"text":{"field":"lab"}}},
{"data":{"name":"i2yt"},"mark":{"type":"rule","stroke":"#333","strokeWidth":1.2},
"encoding":{"x":{"datum":0,"type":"quantitative","scale":{"domain":[0,0.05],"range":[574,864],"nice":false,"zero":false},"axis":null},"x2":{"datum":-0.00075},
"y":{"field":"v","type":"quantitative","scale":{"domain":[0,3.5],"range":[327,141.5],"nice":false,"zero":false},"axis":null}}},
{"data":{"name":"i2yt"},"mark":{"type":"text","fontSize":14,"color":"#1a1a1a","align":"right","baseline":"middle"},
"encoding":{"x":{"datum":-0.0011,"type":"quantitative","scale":{"domain":[0,0.05],"range":[574,864],"nice":false,"zero":false},"axis":null},
"y":{"field":"v","type":"quantitative","scale":{"domain":[0,3.5],"range":[327,141.5],"nice":false,"zero":false},"axis":null},"text":{"field":"lab"}}},
{"data":{"name":"i2fit"},"mark":{"type":"line","stroke":"#111","strokeWidth":1},
"encoding":{"x":{"field":"w","type":"quantitative","scale":{"domain":[0,0.05],"range":[574,864],"nice":false,"zero":false},"axis":null},
"y":{"field":"ip","type":"quantitative","scale":{"domain":[0,3.5],"range":[327,141.5],"nice":false,"zero":false},"axis":null},"detail":{"field":"s"}}},
{"data":{"name":"i2pts"},"transform":[{"filter":"datum.s == 'BBr3'"}],"mark":{"type":"square","color":"#111","size":16,"opacity":1},
"encoding":{"x":{"field":"w","type":"quantitative","scale":{"domain":[0,0.05],"range":[574,864],"nice":false,"zero":false},"axis":null},
"y":{"field":"ip","type":"quantitative","scale":{"domain":[0,3.5],"range":[327,141.5],"nice":false,"zero":false},"axis":null}}},
{"data":{"name":"i2pts"},"transform":[{"filter":"datum.s == 'Ferrocene'"}],"mark":{"type":"point","shape":"circle","filled":true,"fill":"white","stroke":"#111","strokeWidth":1,"size":40,"opacity":1},
"encoding":{"x":{"field":"w","type":"quantitative","scale":{"domain":[0,0.05],"range":[574,864],"nice":false,"zero":false},"axis":null},
"y":{"field":"ip","type":"quantitative","scale":{"domain":[0,3.5],"range":[327,141.5],"nice":false,"zero":false},"axis":null}}},
{"data":{"name":"i2rules"},"mark":{"type":"rule","stroke":"#111","strokeWidth":1},
"encoding":{"x":{"field":"x","type":"quantitative","scale":{"domain":[0,0.05],"range":[574,864],"nice":false,"zero":false},"axis":null},"x2":{"field":"x2"},
"y":{"field":"y","type":"quantitative","scale":{"domain":[0,3.5],"range":[327,141.5],"nice":false,"zero":false},"axis":null},"y2":{"field":"y2"}}},
{"data":{"values":[{}]},"mark":{"type":"rect","fill":"white","stroke":"#333","strokeWidth":1.2,"cornerRadius":7},
"encoding":{"x":{"datum":0.00155,"type":"quantitative","scale":{"domain":[0,0.05],"range":[574,864],"nice":false,"zero":false},"axis":null},"x2":{"datum":0.0165},
"y":{"datum":2.17,"type":"quantitative","scale":{"domain":[0,3.5],"range":[327,141.5],"nice":false,"zero":false},"axis":null},"y2":{"datum":1.31}}},
{"data":{"name":"i2text"},"mark":{"type":"text","fontSize":14,"color":"#111","align":"left","baseline":"middle"},
"encoding":{"x":{"field":"x","type":"quantitative","scale":{"domain":[0,0.05],"range":[574,864],"nice":false,"zero":false},"axis":null},
"y":{"field":"y","type":"quantitative","scale":{"domain":[0,3.5],"range":[327,141.5],"nice":false,"zero":false},"axis":null},"text":{"field":"t"}}},
{"data":{"name":"i2sup"},"mark":{"type":"text","fontSize":10,"color":"#111","align":"left","baseline":"middle"},
"encoding":{"x":{"field":"x","type":"quantitative","scale":{"domain":[0,0.05],"range":[574,864],"nice":false,"zero":false},"axis":null},
"y":{"field":"y","type":"quantitative","scale":{"domain":[0,3.5],"range":[327,141.5],"nice":false,"zero":false},"axis":null},"text":{"field":"t"}}},
{"data":{"name":"i2rot"},"mark":{"type":"text","fontSize":14,"color":"#111","align":"center","baseline":"middle","angle":270},
"encoding":{"x":{"field":"x","type":"quantitative","scale":{"domain":[0,0.05],"range":[574,864],"nice":false,"zero":false},"axis":null},
"y":{"field":"y","type":"quantitative","scale":{"domain":[0,3.5],"range":[327,141.5],"nice":false,"zero":false},"axis":null},"text":{"field":"t"}}}
]
}
],
"resolve":{"scale":{"x":"independent","y":"independent"}}
}
